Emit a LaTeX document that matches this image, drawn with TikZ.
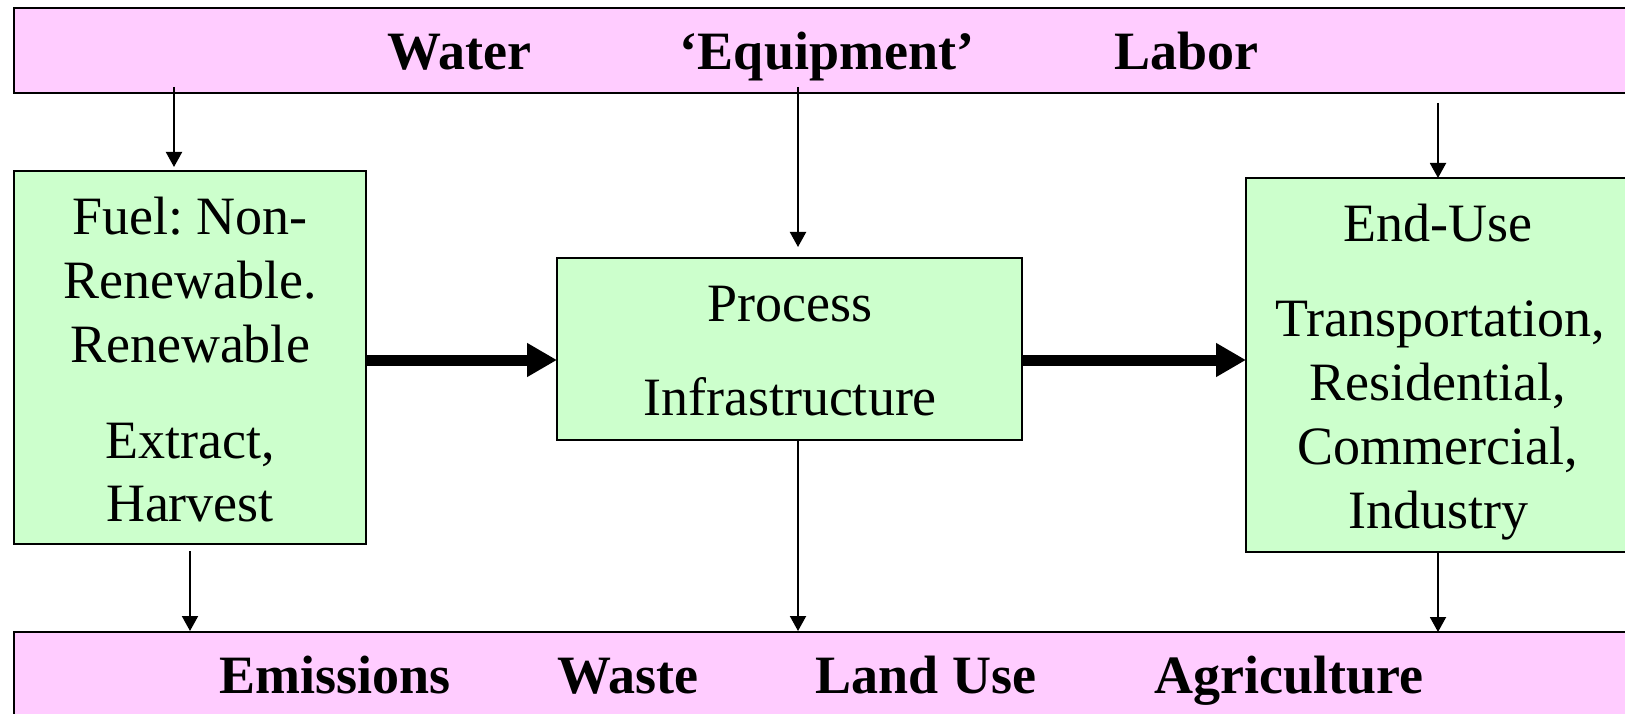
\documentclass[tikz,border=0pt]{standalone}
\usepackage{fontspec}
\setmainfont{Liberation Serif}
\usetikzlibrary{arrows.meta}
\frenchspacing
\definecolor{barpink}{HTML}{FFCCFF}
\definecolor{boxgreen}{HTML}{CCFFCC}
\tikzset{
  bar/.style={draw=black, line width=2pt, fill=barpink, outer sep=0pt, inner sep=0pt, anchor=north west},
  stage/.style={draw=black, line width=2pt, fill=boxgreen, outer sep=0pt, inner sep=0pt, anchor=north west},
  barlabel/.style={anchor=base, inner sep=0pt, font=\fontsize{54}{64}\selectfont\bfseries},
  stagelabel/.style={anchor=base, inner sep=0pt, font=\fontsize{54}{64}\selectfont},
  feed/.style={line width=2pt, -{Triangle[length=15pt,width=16pt]}},
  flow/.style={line width=11pt, -{Triangle[length=30pt,width=32pt]}},
}
\begin{document}
\begin{tikzpicture}[x=1pt, y=-1pt]
\useasboundingbox (0,0) rectangle (1625,714);

% input and output bars
\node[bar, minimum width=1640pt, minimum height=85pt] (top) at (14,8) {};
\node[bar, minimum width=1640pt, minimum height=100pt] (bot) at (14,632) {};

% the three stages
\node[stage, minimum width=352pt, minimum height=373pt] (fuel) at (14,171) {};
\node[stage, minimum width=465pt, minimum height=182pt] (proc) at (557,258) {};
\node[stage, minimum width=420pt, minimum height=374pt] (enduse) at (1246,178) {};

% inputs
\node[barlabel] (water) at (459,70) {Water};
\node[barlabel] (equip) at (827,70) {‘Equipment’};
\node[barlabel] (labor) at (1186,70) {Labor};

% outputs
\node[barlabel] (emis) at (335,693) {Emissions};
\node[barlabel] (waste) at (628,693) {Waste};
\node[barlabel] (land) at (926,693) {Land Use};
\node[barlabel] (agri) at (1289,693) {Agriculture};

% stage texts
\node[stagelabel] (f1) at (190,234) {Fuel: Non-};
\node[stagelabel] (f2) at (190,298) {Renewable.};
\node[stagelabel] (f3) at (190,362) {Renewable};
\node[stagelabel] (f4) at (190,458) {Extract,};
\node[stagelabel] (f5) at (190,521) {Harvest};

\node[stagelabel] (p1) at (790,321) {Process};
\node[stagelabel] (p2) at (790,415) {Infrastructure};

\node[stagelabel] (e1) at (1438,241) {End-Use};
\node[stagelabel] (e2) at (1440,336) {Transportation,};
\node[stagelabel] (e3) at (1438,400) {Residential,};
\node[stagelabel] (e4) at (1438,464) {Commercial,};
\node[stagelabel] (e5) at (1438,528) {Industry};

% columns and level of the connectors
\coordinate (colIn) at (174,0);
\coordinate (colOut) at (190,0);
\coordinate (colMid) at (798,0);
\coordinate (colEnd) at (1438,0);
\coordinate (level) at (0,360);

% feeds from the input bar
\draw[feed] ([yshift=6pt]top.south -| colIn) -- ([yshift=4pt]fuel.north -| colIn);
\draw[feed] ([yshift=6pt]top.south -| colMid) -- ([yshift=11pt]proc.north -| colMid);
\draw[feed] ([yshift=-10pt]top.south -| colEnd) -- (enduse.north -| colEnd);

% feeds into the output bar
\draw[feed] ([yshift=-7pt]fuel.south -| colOut) -- ([yshift=1pt]bot.north -| colOut);
\draw[feed] (proc.south -| colMid) -- ([yshift=1pt]bot.north -| colMid);
\draw[feed] (enduse.south -| colEnd) -- (bot.north -| colEnd);

% main energy flow
\draw[flow] (fuel.east |- level) -- (proc.west |- level);
\draw[flow] (proc.east |- level) -- (enduse.west |- level);
\end{tikzpicture}
\end{document}
